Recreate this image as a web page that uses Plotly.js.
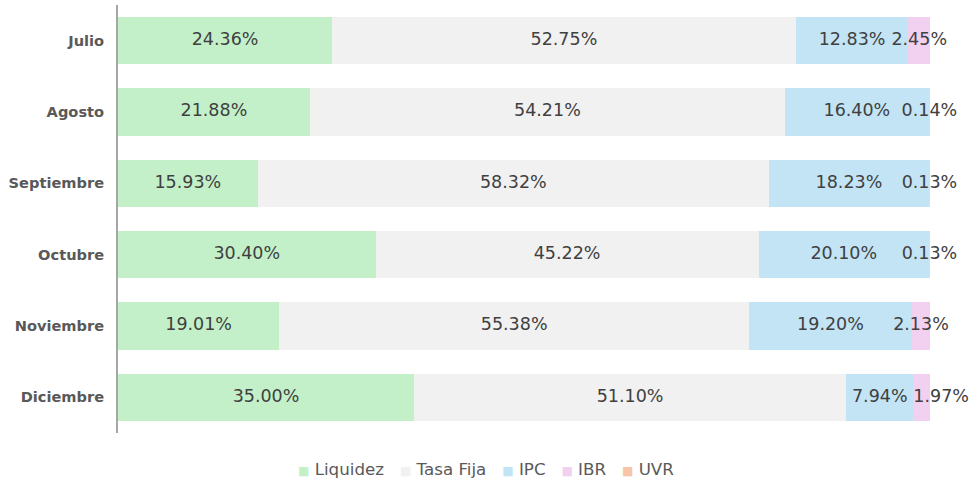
<!DOCTYPE html>
<html>
<head>
<meta charset="utf-8">
<script src="https://cdn.plot.ly/plotly-3.0.1.min.js"></script>
<style>html,body{margin:0;padding:0;background:#fff;}#chart{width:972px;height:483px;}</style>
</head>
<body>
<div id="chart"></div>
<script>
const months = ["Julio", "Agosto", "Septiembre", "Octubre", "Noviembre", "Diciembre"];
const liquidez = [24.36, 21.88, 15.93, 30.40, 19.01, 35.00];
const tasaFija = [52.75, 54.21, 58.32, 45.22, 55.38, 51.10];
const ipc = [12.83, 16.40, 18.23, 20.10, 19.20, 7.94];
const ibr = [2.45, 0.14, 0.13, 0.13, 2.13, 1.97];
const uvr = [0, 0, 0, 0, 0, 0];

const seriesNames = ["Liquidez", "Tasa Fija", "IPC", "IBR", "UVR"];
const seriesValues = [liquidez, tasaFija, ipc, ibr, uvr];
const colors = ["#c3f0c9", "#f1f1f1", "#c2e4f5", "#f2d0f0", "#f7c6a8"];

const FONT = "DejaVu Sans, Verdana, sans-serif";

const traces = seriesNames.map((name, i) => ({
  type: "bar",
  orientation: "h",
  name: name,
  y: months,
  x: seriesValues[i],
  marker: { color: colors[i], line: { width: 0 } },
  hoverinfo: "name+x",
  showlegend: false
}));

// Value labels: positioned at the centre of each normalised segment
const totals = months.map((m, j) => seriesValues.reduce((s, arr) => s + arr[j], 0));
const lx = [], ly = [], lt = [], lp = [];
months.forEach((m, j) => {
  let cum = 0;
  let prevW = 100;
  seriesValues.forEach((arr, i) => {
    const w = arr[j] / totals[j] * 100;
    if (arr[j] > 0) {
      if (w < 5 && prevW < 12) {
        lx.push(cum); lp.push("middle right");
      } else {
        lx.push(cum + w / 2); lp.push("middle center");
      }
      ly.push(m);
      lt.push(arr[j].toFixed(2) + "%");
    }
    cum += w;
    prevW = w;
  });
});

traces.push({
  type: "scatter",
  mode: "text",
  x: lx,
  y: ly,
  text: lt,
  textposition: lp,
  cliponaxis: false,
  textfont: { family: FONT, size: 17.5, color: "#404040" },
  hoverinfo: "skip",
  showlegend: false
});

// Legend built as a single centred line of text
const legendText = seriesNames.map((n, i) =>
  "<span style='color:" + colors[i] + ";font-size:12px'>■</span> " + n
).join("\u00a0\u00a0\u00a0");

const layout = {
  width: 972,
  height: 483,
  margin: { l: 118, r: 42, t: 5, b: 50 },
  barmode: "stack",
  barnorm: "percent",
  bargap: 0.34,
  paper_bgcolor: "#ffffff",
  plot_bgcolor: "#ffffff",
  font: { family: FONT, color: "#595959" },
  xaxis: {
    visible: false,
    range: [0, 100],
    fixedrange: true
  },
  yaxis: {
    autorange: "reversed",
    showline: true,
    linecolor: "#a6a6a6",
    linewidth: 2,
    showgrid: false,
    zeroline: false,
    ticks: "",
    ticklabelstandoff: 9,
    tickfont: { family: FONT, size: 14.6, color: "#595959", weight: "bold" }
  },
  showlegend: false,
  annotations: [{
    xref: "paper",
    yref: "paper",
    x: 0.453,
    y: -0.084,
    xanchor: "center",
    yanchor: "middle",
    showarrow: false,
    text: legendText,
    font: { family: FONT, size: 16.7, color: "#595959" }
  }]
};

Plotly.newPlot("chart", traces, layout, { displayModeBar: false, staticPlot: true });
</script>
</body>
</html>
